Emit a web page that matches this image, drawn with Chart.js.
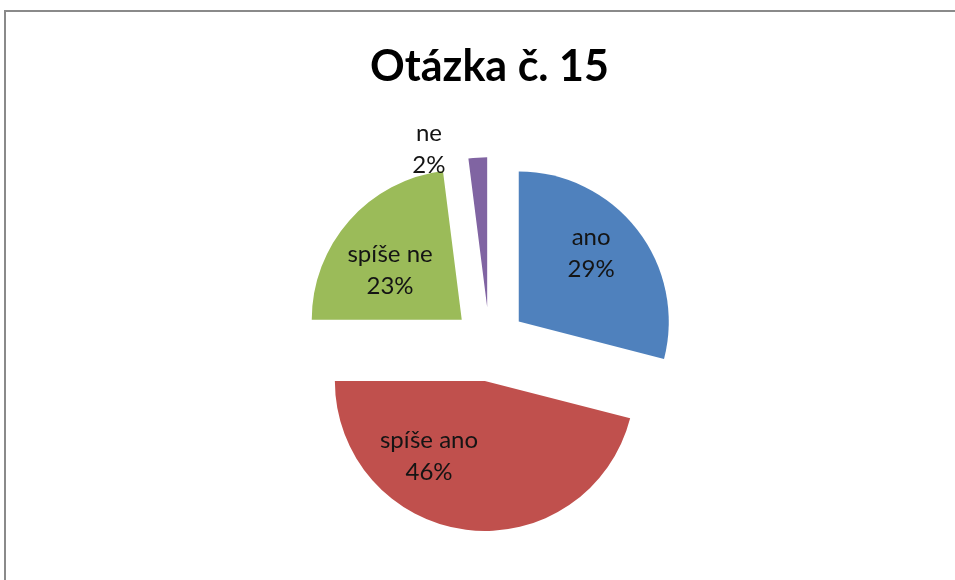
<!DOCTYPE html>
<html lang="cs">
<head>
<meta charset="utf-8">
<title>Otázka č. 15</title>
<script src="https://cdn.jsdelivr.net/npm/chart.js@4.4.1/dist/chart.umd.min.js"></script>
<style>
  html, body { margin: 0; padding: 0; background: #fff; }
  body { width: 955px; height: 580px; overflow: hidden; position: relative; }
  /* chart frame – only top and left edges are visible in the crop */
  .frame { position: absolute; left: 4px; top: 10px; width: 1000px; height: 700px;
           border: 2px solid #8a8a8a; box-sizing: border-box; }
  #wrap { position: absolute; left: 0; top: 0; width: 955px; height: 580px; }
</style>
</head>
<body>
<div class="frame"></div>
<div id="wrap"><canvas id="pie" width="955" height="580"></canvas></div>
<script>
const TITLE  = "Otázka č. 15";
const labels = ["ano", "spíše ano", "spíše ne", "ne"];
const shares = [29, 46, 23, 2];
const colors = ["#4F81BD", "#C0504D", "#9BBB59", "#8064A2"];

const EXPLODE = 37;   // px each slice is pulled out from the centre

// Chart.js' own "offset" also grows narrow slices, so pull every arc out by
// the same distance here and let the arc element draw itself
const explode = {
  id: "explode",
  beforeDatasetDraw(chart, args) {
    const { ctx } = chart;
    args.meta.data.forEach(arc => {
      const { startAngle, endAngle } = arc.getProps(["startAngle", "endAngle"], true);
      const mid = (startAngle + endAngle) / 2;
      ctx.save();
      ctx.translate(Math.cos(mid) * EXPLODE, Math.sin(mid) * EXPLODE);
      arc.draw(ctx);
      ctx.restore();
    });
    return false;
  }
};

// labels placed around each slice's tip, Excel "best fit" style
const sliceLabels = {
  id: "sliceLabels",
  afterDatasetsDraw(chart, args, opts) {
    const { ctx } = chart;
    const meta = chart.getDatasetMeta(0);
    ctx.save();
    ctx.font = opts.font;
    ctx.fillStyle = opts.color;
    ctx.textAlign = "center";
    ctx.textBaseline = "middle";
    meta.data.forEach((arc, i) => {
      const { x, y, startAngle, endAngle, outerRadius } =
        arc.getProps(["x", "y", "startAngle", "endAngle", "outerRadius"], true);
      const mid = (startAngle + endAngle) / 2;
      const vx = x + Math.cos(mid) * EXPLODE, vy = y + Math.sin(mid) * EXPLODE;
      const p = opts.place[i];
      const a = mid + p.turn * Math.PI / 180;
      const lx = vx + Math.cos(a) * outerRadius * p.r;
      const ly = vy + Math.sin(a) * outerRadius * p.r;
      ctx.fillText(labels[i], lx, ly - opts.lineHeight / 2);
      ctx.fillText(shares[i] + "%", lx, ly + opts.lineHeight / 2);
    });
    ctx.restore();
  }
};

new Chart(document.getElementById("pie"), {
  type: "pie",
  data: {
    labels,
    datasets: [{
      data: shares,
      backgroundColor: colors,
      borderWidth: 0
    }]
  },
  options: {
    responsive: false,
    animation: false,
    radius: 150,
    layout: { padding: { left: 24, right: 0, top: 0, bottom: 3 } },
    plugins: {
      legend: { display: false },
      tooltip: { enabled: false },
      title: {
        display: true,
        text: TITLE,
        color: "#000",
        font: { family: "Lato", size: 43, weight: "bold" },
        padding: { top: 41, bottom: 19 }
      },
      sliceLabels: {
        font: "24px Lato",
        color: "#141414",
        lineHeight: 32,
        place: [
          { r: 0.665, turn: -5.7 },
          { r: 0.623, turn: 29.5 },
          { r: 0.582, turn: -6.6 },
          { r: 1.125, turn: -16.6 }
        ]
      }
    }
  },
  plugins: [explode, sliceLabels]
});
</script>
</body>
</html>
